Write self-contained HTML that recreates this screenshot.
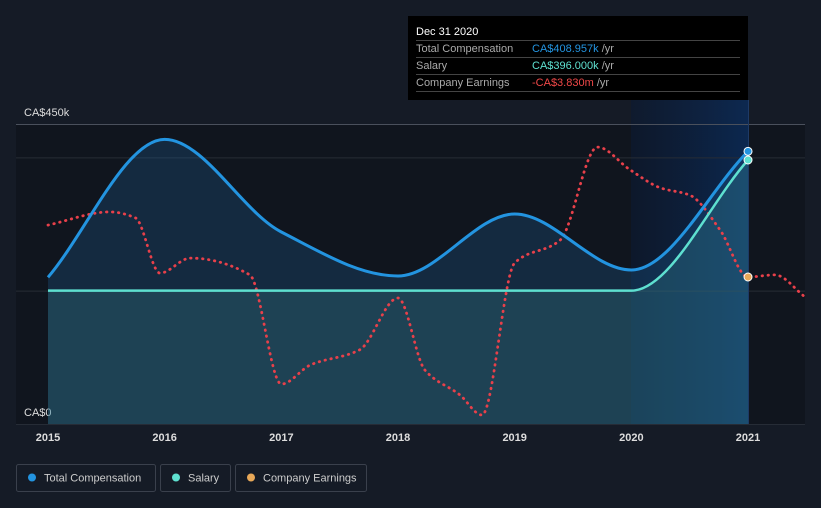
<!DOCTYPE html>
<html><head><meta charset="utf-8"><style>
body{margin:0;background:#151b26;font-family:"Liberation Sans",sans-serif;}
svg{display:block}
</style></head><body>
<svg id="c" width="821" height="508" viewBox="0 0 821 508">
<defs>
<linearGradient id="hl" x1="0" x2="1" y1="0" y2="0"><stop offset="0" stop-color="#0b1a33" stop-opacity="0.6"/><stop offset="1" stop-color="#0c2a55" stop-opacity="0.9"/></linearGradient>
<clipPath id="clip"><rect x="16" y="100" width="789" height="325"/></clipPath>
</defs>
<rect width="821" height="508" fill="#151b26"/>
<rect x="16" y="124" width="789" height="300" fill="#10151e"/>
<rect x="631" y="100" width="117" height="324" fill="url(#hl)"/>
<g id="grid"></g>
<g id="series" clip-path="url(#clip)"></g>
<g id="axis"></g>
<g>
<rect x="408" y="16" width="340" height="84" fill="#000"/>
<text x="416" y="35" fill="#fff" font-size="11">Dec 31 2020</text>
<line x1="416" x2="740" y1="40.5" y2="40.5" stroke="#444"/>
<text x="416" y="52" fill="#aaa" font-size="11">Total Compensation</text>
<text x="532" y="52" fill="#2394e0" font-size="11">CA$408.957k <tspan fill="#aaa">/yr</tspan></text>
<line x1="416" x2="740" y1="57.5" y2="57.5" stroke="#444"/>
<text x="416" y="69" fill="#aaa" font-size="11">Salary</text>
<text x="532" y="69" fill="#5ee0d0" font-size="11">CA$396.000k <tspan fill="#aaa">/yr</tspan></text>
<line x1="416" x2="740" y1="74.5" y2="74.5" stroke="#444"/>
<text x="416" y="86" fill="#aaa" font-size="11">Company Earnings</text>
<text x="532" y="86" fill="#f04848" font-size="11">-CA$3.830m <tspan fill="#aaa">/yr</tspan></text>
<line x1="416" x2="740" y1="91.5" y2="91.5" stroke="#444"/>
</g>
<g>
<g><rect x="16.5" y="464.5" width="139" height="27" rx="2" fill="none" stroke="#3a404c"/><circle cx="32" cy="477.5" r="4" fill="#2394e0"/><text x="44" y="481.5" fill="#ccc" font-size="11">Total Compensation</text></g>
<g><rect x="160.5" y="464.5" width="70" height="27" rx="2" fill="none" stroke="#3a404c"/><circle cx="176" cy="477.5" r="4" fill="#5ee0d0"/><text x="188" y="481.5" fill="#ccc" font-size="11">Salary</text></g>
<g><rect x="235.5" y="464.5" width="131" height="27" rx="2" fill="none" stroke="#3a404c"/><circle cx="251" cy="477.5" r="4" fill="#e8a858"/><text x="263" y="481.5" fill="#ccc" font-size="11">Company Earnings</text></g>
</g>
</svg>
<script>
const years=[2015,2016,2017,2018,2019,2020,2021];
const yTicks=[0,200,400,450];
const yTickLabels=["CA$0","","","CA$450k"];
const totalX=[2015,2016,2017,2018,2019,2020,2021];
const totalV=[220,427,288,222,315,231,409];
const salaryX=[2015,2016,2017,2018,2019,2020,2021];
const salaryV=[200,200,200,200,200,200,396];
const earnX=[2015.0,2015.53,2015.75,2015.96,2016.22,2016.73,2017.0,2017.25,2017.67,2018.0,2018.23,2018.53,2018.72,2019.0,2019.39,2019.71,2019.99,2020.25,2020.5,2020.76,2021.0,2021.23,2021.49];
const earnV=[-2.10,-1.66,-1.86,-3.70,-3.20,-3.76,-7.40,-6.76,-6.26,-4.53,-6.93,-7.76,-8.43,-3.36,-2.60,0.50,-0.26,-0.86,-1.10,-2.26,-3.83,-3.76,-4.50];

const NS="http://www.w3.org/2000/svg";
const X=t=>48+(t-2015)*116.67;
const Y=v=>424-v*(300/450);
const YE=m=>277-(m+3.83)*30;
function mk(tag,attrs,parent){const e=document.createElementNS(NS,tag);for(const k in attrs)e.setAttribute(k,attrs[k]);parent.appendChild(e);return e;}
function mono(pts){
  const n=pts.length;if(n<2)return "";
  const dx=[],s=[];for(let i=0;i<n-1;i++){dx.push(pts[i+1][0]-pts[i][0]);s.push((pts[i+1][1]-pts[i][1])/dx[i]);}
  const m=[s[0]];for(let i=1;i<n-1;i++){m.push(s[i-1]*s[i]<=0?0:3*(dx[i-1]+dx[i])/((2*dx[i]+dx[i-1])/s[i-1]+(dx[i]+2*dx[i-1])/s[i]));}m.push(s[n-2]);
  let d="M"+pts[0][0]+","+pts[0][1];
  for(let i=0;i<n-1;i++){const h=dx[i]/3;d+=" C"+(pts[i][0]+h)+","+(pts[i][1]+m[i]*h)+" "+(pts[i+1][0]-h)+","+(pts[i+1][1]-m[i+1]*h)+" "+pts[i+1][0]+","+pts[i+1][1];}
  return d;
}
const grid=document.getElementById('grid'),ser=document.getElementById('series'),ax=document.getElementById('axis');
yTicks.forEach((v,i)=>{const l=mk('line',{x1:16,x2:805,y1:Y(v)+0.5,y2:Y(v)+0.5,stroke:i==3?'#4a505c':'#262c36'},grid);


if(yTickLabels[i]){const t=mk('text',{x:24,y:Y(v)-8,fill:'#ddd','font-size':11},grid);t.textContent=yTickLabels[i];

}});
const tp=totalX.map((t,i)=>[X(t),Y(totalV[i])]);
const sp=salaryX.map((t,i)=>[X(t),Y(salaryV[i])]);
const ep=earnX.map((t,i)=>[X(t),YE(earnV[i])]);
const tA=mk('path',{d:mono(tp)+` L${X(2021)},424 L${X(2015)},424 Z`,fill:'#1e6aa8','fill-opacity':0.25},ser);


const sA=mk('path',{d:mono(sp)+` L${X(2021)},424 L${X(2015)},424 Z`,fill:'#3a8c90','fill-opacity':0.25},ser);


const eL=mk('path',{d:mono(ep),fill:'none',stroke:'#e8404a','stroke-width':2.8,'stroke-dasharray':'0.5 5.5','stroke-linecap':'round'},ser);


const sL=mk('path',{d:mono(sp),fill:'none',stroke:'#5ee0d0','stroke-width':2.5},ser);


const tL=mk('path',{d:mono(tp),fill:'none',stroke:'#2394e0','stroke-width':3},ser);


mk('line',{x1:748.5,x2:748.5,y1:100,y2:424,stroke:'#1e3a66'},ax);
years.forEach(y=>{const t=mk('text',{x:X(y),y:441,fill:'#ddd','font-size':11,'font-weight':'bold','text-anchor':'middle'},ax);t.textContent=y;

});
const li=totalX.length-1;
const d1=mk('circle',{cx:X(totalX[li]),cy:Y(totalV[li]),r:4,fill:'#2394e0',stroke:'#fff','stroke-width':1},ax);


const d2=mk('circle',{cx:X(salaryX[li]),cy:Y(salaryV[li]),r:4,fill:'#5ee0d0',stroke:'#fff','stroke-width':1},ax);


const ei=earnX.indexOf(2021.0);
const d3=mk('circle',{cx:X(earnX[ei]),cy:YE(earnV[ei]),r:4,fill:'#e8a858',stroke:'#fff','stroke-width':1},ax);


</script>
</body></html>
